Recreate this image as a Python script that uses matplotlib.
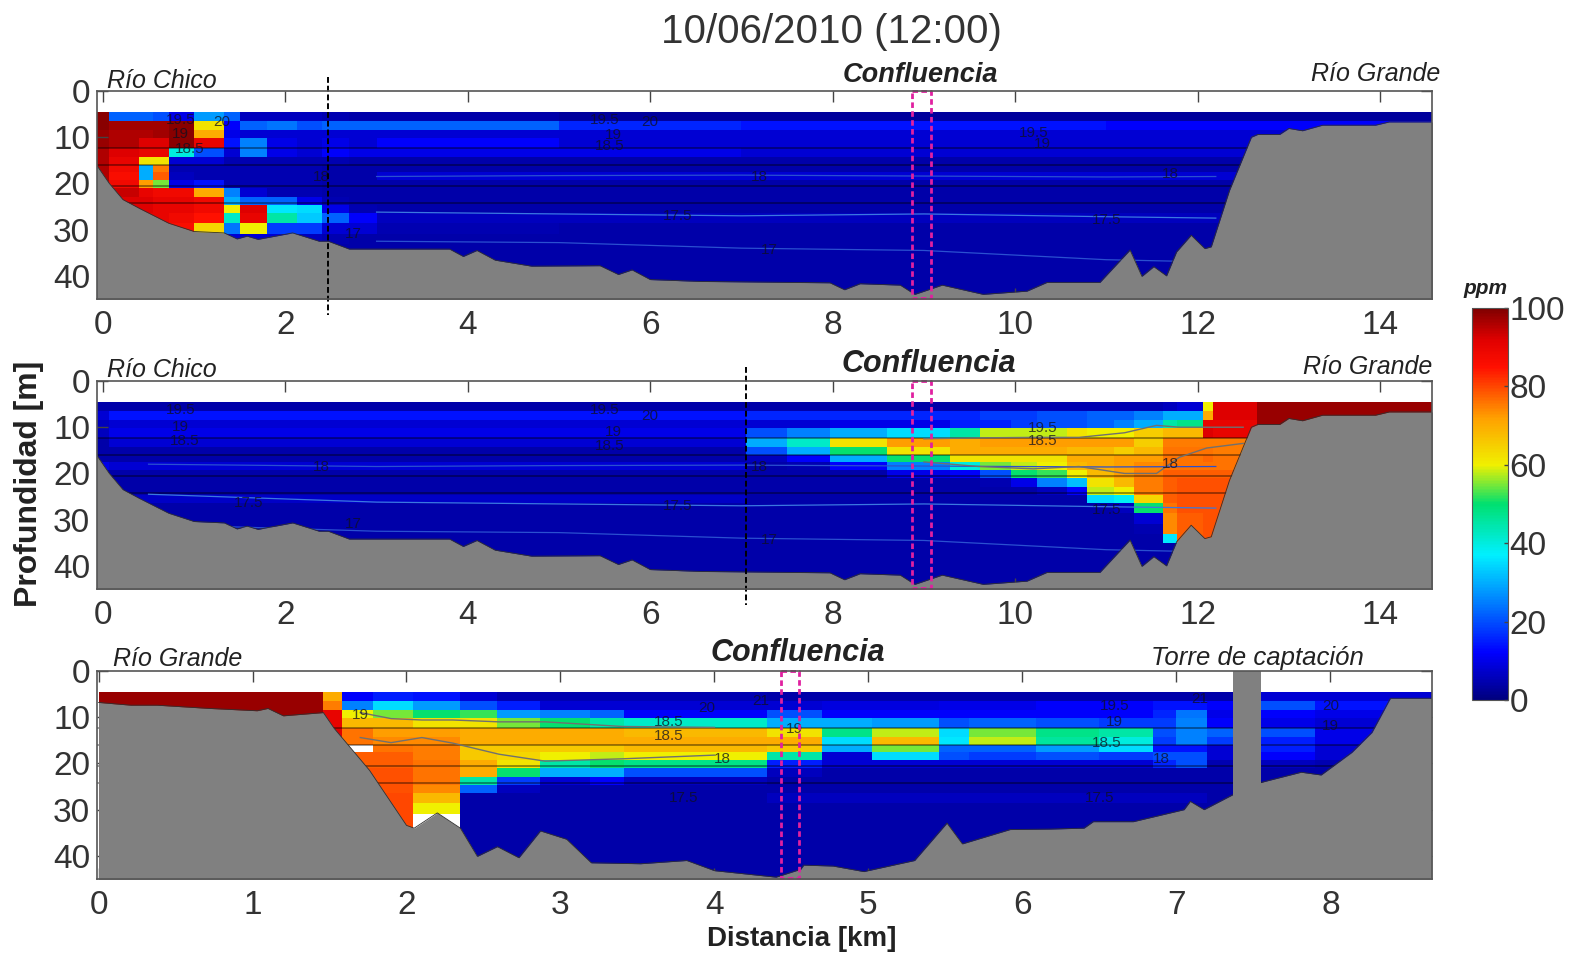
import numpy as np
import matplotlib
matplotlib.use('Agg')
import matplotlib.pyplot as plt
from matplotlib.colors import LinearSegmentedColormap
from matplotlib.cm import ScalarMappable
from matplotlib.colors import Normalize

plt.rcParams['font.family'] = ['Liberation Sans', 'DejaVu Sans']

# Depth layers shared by all three sections (m)
depth_edges = [4.5, 6.5, 8.5, 10.2, 12.3, 14.2, 16, 17.5, 19.2, 21, 23, 24.7, 26.5, 28.5, 31, 33, 35, 46]
dark_lines = [12.4, 16, 20.6, 24.2]

# Section 1: Rio Chico -> Rio Grande
p1_x = [-0.07, .07, .4, .55, .72, 1.0, 1.33, 1.5, 1.8, 2.13, 2.4, 2.7, 3.0, 5, 7, 9, 11, 14.6]
p1_c = [
    [99, 22, 22, 20, 10, 28, 22, 6, 6, 6, 5, 4, 4, 3, 3, 3, 3],
    [99, 97, 97, 97, 99, 62, 12, 22, 24, 20, 22, 22, 22, 16, 14, 14, 12],
    [98, 96, 96, 97, 99, 70, 10, 8, 8, 8, 8, 8, 8, 8, 8, 8, 8],
    [98, 96, 92, 92, 99, 90, 14, 25, 10, 8, 10, 8, 12, 8, 8, 8, 8],
    [96, 92, 90, 90, 40, 20, 8, 25, 10, 8, 12, 10, 10, 10, 8, 8, 8],
    [96, 90, 62, 62, 8, 8, 5, 5, 5, 5, 5, 4, 4, 4, 4, 4, 4],
    [96, 88, 30, 75, 5, 5, 5, 5, 5, 5, 4, 4, 4, 4, 4, 4, 4],
    [96, 86, 30, 78, 6, 5, 5, 5, 5, 5, 4, 4, 8, 8, 8, 8, 8],
    [96, 88, 72, 55, 10, 14, 5, 5, 5, 5, 4, 4, 4, 4, 4, 4, 4],
    [96, 94, 90, 88, 88, 70, 25, 8, 5, 5, 4, 4, 4, 4, 4, 4, 4],
    [92, 92, 92, 90, 90, 88, 30, 22, 22, 10, 5, 4, 4, 4, 4, 4, 4],
    [90, 92, 92, 90, 90, 88, 60, 92, 36, 35, 10, 5, 4, 4, 4, 4, 4],
    [90, 90, 90, 90, 88, 85, 42, 90, 45, 33, 22, 12, 6, 6, 6, 6, 6],
    [90, 88, 88, 88, 86, 64, 24, 60, 18, 18, 8, 8, 5, 4, 4, 4, 4],
    [90, 88, 88, 85, 60, 55, 8, 8, 8, 6, 5, 4, 4, 4, 4, 4, 4],
    [5, 5, 5, 5, 5, 5, 5, 5, 5, 5, 4, 4, 4, 4, 4, 4, 4],
    [5, 5, 5, 5, 5, 5, 5, 5, 5, 5, 4, 4, 4, 4, 4, 4, 4],
]
bed_x = [-0.07, .07, .22, .4, .72, 1.0, 1.33, 1.47, 1.58, 1.7, 2.08, 2.37, 2.47, 2.7, 3.8, 3.95, 4.1, 4.3, 4.7,
         5.45, 5.65, 5.8, 6.0, 6.55, 7.97, 8.13, 8.3, 8.74, 8.9, 9.2, 9.65, 10.13, 10.35, 10.93, 11.26, 11.39,
         11.52, 11.66, 11.77, 11.93, 12.08, 12.15, 12.35, 12.59, 12.66, 12.9, 13.0, 13.15, 13.37, 13.95, 14.1, 14.6]
bed_d = [16, 20, 23.5, 25.4, 28.6, 30.4, 30.7, 32, 31.4, 32.1, 30.7, 32.5, 32.5, 34.2, 34.2, 35.8, 34.5, 36.6, 37.9,
         37.8, 39.7, 38.7, 40.8, 41.2, 41.5, 43, 41.7, 42, 44, 42, 44, 43.3, 41.4, 41.4, 34.4, 40.1,
         38, 40, 34.8, 31.2, 34.1, 33.7, 21.5, 10, 9.4, 9.4, 8.1, 8.6, 7.4, 7.4, 6.7, 6.7]

# Section 2: same transect, later plume position
p2_x = [-0.07, .07, 1, 3, 5, 7.05, 7.5, 7.97, 8.6, 9.29, 9.62, 9.95, 10.24, 10.57, 10.79, 11.08, 11.3, 11.62,
        11.77, 12.06, 12.17, 12.65, 14.6]
p2_c = [
    [4, 4, 4, 4, 4, 4, 4, 4, 4, 4, 5, 5, 5, 5, 5, 5, 5, 6, 8, 60, 92, 98],
    [8, 14, 14, 14, 14, 16, 16, 16, 16, 16, 18, 18, 20, 20, 22, 22, 25, 30, 30, 70, 92, 98],
    [6, 8, 8, 8, 8, 8, 8, 10, 10, 15, 15, 18, 20, 20, 22, 25, 30, 45, 48, 90, 90, 98],
    [6, 10, 10, 10, 10, 20, 25, 30, 35, 45, 58, 58, 58, 62, 60, 60, 65, 68, 68, 92, 90, 98],
    [4, 8, 8, 8, 8, 30, 42, 62, 72, 70, 72, 72, 72, 72, 72, 72, 65, 75, 75, 75, 75, 98],
    [4, 4, 4, 4, 4, 20, 30, 50, 62, 70, 70, 70, 70, 68, 68, 65, 68, 76, 76, 76, 75, 98],
    [4, 4, 4, 4, 4, 6, 12, 30, 50, 62, 62, 62, 62, 70, 70, 72, 72, 76, 76, 77, 76, 98],
    [10, 8, 8, 8, 8, 4, 5, 12, 25, 40, 55, 58, 60, 68, 70, 72, 74, 76, 76, 76, 76, 98],
    [4, 4, 4, 4, 4, 4, 4, 4, 10, 12, 20, 50, 52, 60, 68, 72, 75, 78, 78, 78, 78, 98],
    [4, 4, 4, 4, 4, 4, 4, 4, 4, 4, 5, 10, 25, 32, 62, 68, 75, 78, 79, 79, 79, 98],
    [4, 4, 4, 4, 4, 4, 4, 4, 4, 4, 4, 4, 6, 12, 58, 60, 75, 78, 79, 79, 79, 98],
    [4, 7, 7, 7, 7, 4, 4, 4, 4, 4, 4, 4, 4, 4, 35, 38, 64, 78, 79, 79, 79, 98],
    [4, 4, 4, 4, 4, 4, 4, 4, 4, 4, 4, 4, 4, 4, 4, 6, 50, 76, 79, 79, 79, 98],
    [4, 4, 4, 4, 4, 4, 4, 4, 4, 4, 4, 4, 4, 4, 4, 4, 8, 74, 78, 79, 79, 98],
    [4, 4, 4, 4, 4, 4, 4, 4, 4, 4, 4, 4, 4, 4, 4, 4, 5, 74, 78, 79, 79, 98],
    [4, 4, 4, 4, 4, 4, 4, 4, 4, 4, 4, 4, 4, 4, 4, 4, 4, 36, 78, 79, 79, 98],
    [4, 4, 4, 4, 4, 4, 4, 4, 4, 4, 4, 4, 4, 4, 4, 4, 4, 4, 78, 79, 79, 98],
]

# Section 3: Rio Grande -> Torre de captacion
p3_x = [0, 1.46, 1.58, 1.78, 2.04, 2.35, 2.59, 2.87, 3.19, 3.41, 4.34, 4.7, 5.02, 5.46, 5.65, 6.09, 6.5, 6.85,
        7.0, 7.2, 7.55, 7.9, 8.66]
n = float('nan')
p3_c = [
    [98, 70, 12, 15, 14, 8, 5, 5, 5, 5, 4, 4, 4, 4, 4, 4, 4, 4, 4, 4, 8, 8],
    [98, 75, 25, 35, 28, 20, 15, 8, 8, 8, 8, 9, 9, 10, 10, 12, 12, 14, 14, 12, 20, 14],
    [98, 90, 60, 55, 50, 52, 28, 25, 22, 12, 20, 12, 12, 12, 12, 12, 12, 16, 24, 10, 12, 10],
    [98, 90, 68, 68, 62, 62, 55, 50, 45, 42, 30, 30, 28, 20, 22, 20, 18, 18, 25, 12, 10, 8],
    [98, 92, 76, 72, 72, 70, 70, 70, 70, 68, 62, 48, 58, 35, 55, 48, 45, 20, 25, 22, 20, 10],
    [98, 92, 76, 74, 74, 70, 70, 70, 70, 70, 70, 35, 68, 36, 58, 46, 40, 18, 25, 18, 15, 10],
    [98, 92, n, 76, 75, 66, 66, 66, 66, 68, 66, 30, 55, 22, 22, 28, 35, 14, 14, 8, 15, 8],
    [98, 92, 78, 78, 75, 66, 64, 60, 58, 60, 45, 8, 35, 20, 18, 20, 18, 20, 20, 8, 12, 8],
    [98, 92, 78, 78, 76, 70, 62, 45, 50, 48, 15, 8, 8, 8, 8, 8, 8, 16, 20, 5, 6, 5],
    [98, 92, 79, 79, 76, 70, 50, 30, 30, 20, 6, 4, 4, 4, 4, 4, 4, 4, 4, 4, 4, 4],
    [98, 92, 79, 79, 76, 45, 18, 8, 12, 6, 4, 4, 4, 4, 4, 4, 4, 4, 4, 4, 4, 4],
    [98, 92, 79, 79, 74, 22, 6, 4, 4, 4, 4, 4, 4, 4, 4, 4, 4, 4, 4, 4, 4, 4],
    [98, 92, 80, 80, 68, 4, 4, 4, 4, 4, 6, 6, 6, 6, 6, 6, 6, 6, 6, 4, 4, 4],
    [98, 92, 80, 80, 60, 4, 4, 4, 4, 4, 4, 4, 4, 4, 4, 4, 4, 4, 4, 4, 4, 4],
    [98, 92, 80, 80, n, 4, 4, 4, 4, 4, 4, 4, 4, 4, 4, 4, 4, 4, 4, 4, 4, 4],
    [98, 92, 80, 80, n, 4, 4, 4, 4, 4, 4, 4, 4, 4, 4, 4, 4, 4, 4, 4, 4, 4],
    [98, 92, 80, 80, n, 4, 4, 4, 4, 4, 4, 4, 4, 4, 4, 4, 4, 4, 4, 4, 4, 4],
]
p3_bed_x = [0, .21, .38, .72, 1.03, 1.1, 1.2, 1.46, 1.53, 1.76, 2.0, 2.05, 2.2, 2.35, 2.46, 2.59, 2.73, 2.87, 3.04,
            3.2, 3.52, 3.82, 4.0, 4.4, 4.56, 4.58, 4.77, 4.97, 5.3, 5.51, 5.61, 5.92, 6.18, 6.4, 6.46, 6.72, 7.05,
            7.09, 7.18, 7.37, 7.55, 7.81, 7.94, 8.14, 8.27, 8.39, 8.66]
p3_bed_d = [6.8, 7.4, 7.4, 8.1, 8.6, 8.1, 9.7, 9, 12.4, 21.5, 33.4, 34, 30.7, 34, 40.1, 38, 40.4, 34.6, 36.4,
            41.5, 41.7, 41, 43.2, 44.6, 42.9, 42, 42.2, 43.4, 41, 32.9, 37.4, 34.3, 34.2, 34, 32.6, 32.6, 30,
            28.2, 30, 26.7, 24.1, 21.9, 22.5, 17.6, 13.3, 5.9, 5.9]
tower_x = [7.37, 7.55]

# Isotherms, (x, depth) per line
iso_p1_x = [3, 5, 7, 9, 11, 12.2]
iso_top_x = [.5, 3, 5, 7, 9, 11, 12.2]
iso_top_a = [24.5, 26.2, 26.6, 27, 26.6, 27.2, 27.5]
iso_top_b = [31, 32.5, 32.8, 34, 34.5, 36.5, 37]
iso_top_c = [18, 18.5, 18.3, 18.2, 18.4, 18.6, 18.5]
iso_p2_x = [9.0, 9.6, 10.2, 10.7, 11.2, 11.55, 11.8, 12.1, 12.5]
iso_p2_d = [17.5, 18.5, 19, 18.5, 20, 20, 16.5, 14.5, 13.5]
iso_p2b_d = [12.5, 12.3, 12.2, 12.2, 11.2, 9.6, 10, 10, 10]
iso_p3_x = [1.7, 1.9, 2.1, 2.3, 2.6, 2.9, 3.4, 4.0]
iso_p3_d = [14.4, 15.5, 14.4, 15.6, 18, 19.5, 19, 18.2]
iso_p3b_d = [9, 10.3, 10.6, 10.6, 11, 11, 12, 12.2]

# Label text, x, depth
p1_labels = [('19.5', .85, 6.2), ('20', 1.3, 6.6), ('19', .85, 9.3), ('18.5', .95, 12.6), ('19.5', 5.5, 6.3),
             ('20', 6.0, 6.8), ('19', 5.6, 9.5), ('18.5', 5.55, 12), ('18', 2.4, 18.5), ('18', 7.2, 18.5),
             ('18', 11.7, 18), ('17.5', 6.3, 27), ('17.5', 11, 28), ('17', 2.75, 31), ('17', 7.3, 34.5),
             ('19.5', 10.2, 9), ('19', 10.3, 11.5)]
p2_labels = [('19.5', .85, 6.2), ('19', .85, 10), ('18.5', .9, 13), ('19.5', 5.5, 6.3), ('20', 6.0, 7.5),
             ('19', 5.6, 11), ('18.5', 5.55, 14), ('18', 2.4, 18.5), ('18', 7.2, 18.5), ('17.5', 1.6, 26.5),
             ('17.5', 6.3, 27), ('17.5', 11, 28), ('17', 2.75, 31), ('17', 7.3, 34.5), ('19.5', 10.3, 10.2),
             ('18.5', 10.3, 13), ('18', 11.7, 18)]
p3_labels = [('19', 1.7, 9.5), ('18.5', 3.7, 11), ('18.5', 3.7, 14), ('20', 3.95, 8), ('19', 4.52, 12.5),
             ('18', 4.05, 19), ('21', 4.3, 6.5), ('19.5', 6.6, 7.6), ('19', 6.6, 11), ('18.5', 6.55, 15.5), ('18', 6.9, 19),
             ('17.5', 3.8, 27.5), ('17.5', 6.5, 27.5), ('21', 7.15, 6), ('20', 8.0, 7.5), ('19', 8.0, 12)]

# Colour scale
jet_pos = [0, .12, .25, .37, .5, .6, .72, .85, .92, 1]
jet_col = ['#00007f', '#0000ff', '#0080ff', '#00f0ff', '#00e070', '#f0f000', '#ffa000', '#ff1000', '#e00000', '#800000']
cmap = LinearSegmentedColormap.from_list('ppm', list(zip(jet_pos, jet_col)))
cmap.set_bad('white')
norm = Normalize(0, 100)

W, H = 1570, 955
GRAY = '#808080'
TXT = '#333333'
fig = plt.figure(figsize=(W / 100, H / 100), dpi=100)


def px_axes(x0, y0, x1, y1):
    return fig.add_axes([x0 / W, 1 - y1 / H, (x1 - x0) / W, (y1 - y0) / H])


def section(box, xlim, xticks, xe, c, bx, bd, labels):
    ax = px_axes(*box)
    ax.pcolormesh(xe, depth_edges, np.array(c, dtype=float), cmap=cmap, norm=norm, shading='flat')
    for d in dark_lines:
        ax.axhline(d, color='black', lw=1.2, alpha=.45)
    for t, x, d in labels:
        ax.text(x, d, t, fontsize=11, color='#101020', alpha=.75, ha='center', va='center')
    ax.fill_between(bx, bd, 46, color=GRAY, lw=0, zorder=3)
    ax.plot(bx, bd, color='#303030', lw=.6, zorder=3)
    ax.set_xlim(xlim)
    ax.set_ylim(45, 0)
    ax.set_xticks(xticks)
    ax.set_yticks([0, 10, 20, 30, 40])
    ax.tick_params(axis='both', direction='in', top=True, right=True, length=8, width=1, color='#444444',
                   labelsize=24, labelcolor=TXT, pad=8)
    ax.tick_params(axis='y', pad=5)
    for s in ax.spines.values():
        s.set_color('#555555')
        s.set_linewidth(1.2)
        s.set_zorder(6)
    return ax


ax1 = section((97, 91, 1432, 299), (-0.065, 14.57), range(0, 15, 2), p1_x, p1_c, bed_x, bed_d, p1_labels)
ax2 = section((97, 381, 1432, 589), (-0.065, 14.57), range(0, 15, 2), p2_x, p2_c, bed_x, bed_d, p2_labels)
ax3 = section((97, 671, 1432, 879), (-0.01, 8.66), range(0, 9), p3_x, p3_c, p3_bed_x, p3_bed_d, p3_labels)

# Isotherms stay under the bed; the first panel's start right of the plume
ax1.plot(iso_p1_x, iso_top_a[1:], color='#3a78e0', lw=.9, zorder=2)
ax1.plot(iso_p1_x, iso_top_b[1:], color='#2a50d0', lw=.9, zorder=2)
ax1.plot(iso_p1_x, iso_top_c[1:], color='#2a50d0', lw=.9, zorder=2)
ax2.plot(iso_top_x, iso_top_a, color='#3a78e0', lw=.9, zorder=2)
ax2.plot(iso_top_x, iso_top_b, color='#2a50d0', lw=.9, zorder=2)
ax2.plot(iso_top_x, iso_top_c, color='#2a50d0', lw=.9, zorder=2)
ax2.plot(iso_p2_x, iso_p2_d, color='#707070', lw=1, zorder=2)
ax2.plot(iso_p2_x, iso_p2b_d, color='#707070', lw=1, zorder=2)
ax3.plot(iso_p3_x, iso_p3_d, color='#707070', lw=1, zorder=2)
ax3.plot(iso_p3_x, iso_p3b_d, color='#707070', lw=1, zorder=2)
ax3.axvspan(tower_x[0], tower_x[1], color=GRAY, lw=0, zorder=4)

# Section markers
ax1.plot([2.47, 2.47], [-3, 48.5], color='black', ls=(0, (3, 1.5)), lw=1.4, clip_on=False, zorder=5)
ax2.plot([7.05, 7.05], [-3, 48.5], color='black', ls=(0, (3, 1.5)), lw=1.4, clip_on=False, zorder=5)
for ax, (a, b) in ((ax1, (8.87, 9.08)), (ax2, (8.87, 9.08)), (ax3, (4.43, 4.55))):
    ax.plot([a, b, b, a, a], [0, 0, 44.8, 44.8, 0], color='#e020a0', ls=(0, (2, 1.2)), lw=2, zorder=5, clip_on=False)

# Place names
def ptext(x, y, s, size, weight='normal', ha='left'):
    fig.text(x / W, 1 - y / H, s, fontsize=size, style='italic', weight=weight, color='#222222', ha=ha, va='center')


ptext(107, 81, 'Río Chico', 18)
ptext(843, 75, 'Confluencia', 19.5, 'bold')
ptext(1311, 74, 'Río Grande', 18)
ptext(107, 370, 'Río Chico', 18)
ptext(842, 364, 'Confluencia', 22, 'bold')
ptext(1303, 367, 'Río Grande', 18)
ptext(113, 659, 'Río Grande', 18)
ptext(711, 653, 'Confluencia', 22, 'bold')
ptext(1151, 658, 'Torre de captación', 18.5)

fig.text(831 / W, 1 - 32 / H, '10/06/2010 (12:00)', fontsize=29, color=TXT, ha='center', va='center')
fig.text(29 / W, 1 - 484 / H, 'Profundidad [m]', fontsize=23, weight='bold', color='#222222', rotation=90,
         ha='center', va='center')
fig.text(802 / W, 1 - 939 / H, 'Distancia [km]', fontsize=20, weight='bold', color='#222222', ha='center', va='center')

# Colour bar
cax = px_axes(1472, 308, 1508, 700)
cb = fig.colorbar(ScalarMappable(norm=norm, cmap=cmap), cax=cax, ticks=[0, 20, 40, 60, 80, 100])
cb.ax.tick_params(length=3, width=1, color='#444444', labelsize=24, labelcolor=TXT, pad=1, direction='in')
cb.outline.set_edgecolor('#555555')
ptext(1463, 288, 'ppm', 15, 'bold')

fig.savefig('out.png', dpi=100)
